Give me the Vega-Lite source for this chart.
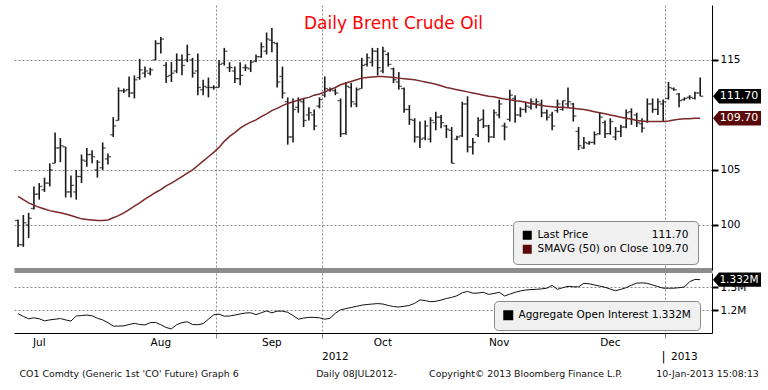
{
"$schema": "https://vega.github.io/schema/vega-lite/v6.json",
"background": "white",
"padding": {"left": 14, "top": 5, "right": 0, "bottom": 0},
"bounds": "flush",
"spacing": 3,
"config": {"view": {"stroke": null}, "font": "DejaVu Sans", "axis": {"labelFont": "DejaVu Sans"}, "legend": {"labelFont": "DejaVu Sans"}},
"datasets": {
"bars": [
{"d":"2012-07-11","o":100.4,"h":100.5,"l":98.0,"c":98.2,"s":102.6,"oi":1.184},
{"d":"2012-07-12","o":98.2,"h":100.9,"l":98.0,"c":100.2,"s":102.3,"oi":1.172},
{"d":"2012-07-13","o":100.0,"h":101.1,"l":98.8,"c":100.6,"s":102.0,"oi":1.162},
{"d":"2012-07-16","o":101.5,"h":103.5,"l":101.4,"c":102.8,"s":101.8,"oi":1.166},
{"d":"2012-07-17","o":102.8,"h":103.8,"l":102.3,"c":103.5,"s":101.6,"oi":1.162},
{"d":"2012-07-18","o":103.2,"h":104.3,"l":103.0,"c":103.8,"s":101.45,"oi":1.153},
{"d":"2012-07-19","o":103.8,"h":105.6,"l":103.5,"c":105.0,"s":101.3,"oi":1.157},
{"d":"2012-07-20","o":105.6,"h":108.4,"l":105.6,"c":107.0,"s":101.2,"oi":1.160},
{"d":"2012-07-23","o":107.0,"h":107.9,"l":105.7,"c":107.2,"s":101.1,"oi":1.163},
{"d":"2012-07-24","o":107.1,"h":107.1,"l":102.5,"c":103.0,"s":101.0,"oi":1.157},
{"d":"2012-07-25","o":103.0,"h":104.5,"l":102.5,"c":103.6,"s":100.85,"oi":1.152},
{"d":"2012-07-26","o":103.0,"h":105.0,"l":102.3,"c":104.4,"s":100.7,"oi":1.174},
{"d":"2012-07-27","o":104.4,"h":106.4,"l":103.8,"c":105.9,"s":100.55,"oi":1.176},
{"d":"2012-07-30","o":105.8,"h":107.0,"l":105.3,"c":106.4,"s":100.5,"oi":1.178},
{"d":"2012-07-31","o":106.4,"h":106.8,"l":105.6,"c":106.2,"s":100.45,"oi":1.175},
{"d":"2012-08-01","o":105.0,"h":105.9,"l":104.3,"c":105.7,"s":100.4,"oi":1.164},
{"d":"2012-08-02","o":105.2,"h":107.5,"l":105.0,"c":107.0,"s":100.4,"oi":1.157},
{"d":"2012-08-03","o":106.0,"h":106.5,"l":105.5,"c":106.2,"s":100.45,"oi":1.145},
{"d":"2012-08-06","o":108.2,"h":109.8,"l":108.0,"c":109.0,"s":100.65,"oi":1.130},
{"d":"2012-08-07","o":109.5,"h":112.5,"l":109.5,"c":112.2,"s":100.85,"oi":1.130},
{"d":"2012-08-08","o":112.2,"h":112.4,"l":112.0,"c":112.2,"s":101.1,"oi":1.131},
{"d":"2012-08-09","o":112.3,"h":113.5,"l":111.6,"c":112.0,"s":101.4,"oi":1.137},
{"d":"2012-08-10","o":112.0,"h":113.6,"l":111.5,"c":113.2,"s":101.7,"oi":1.142},
{"d":"2012-08-13","o":113.4,"h":115.1,"l":113.2,"c":114.1,"s":102.0,"oi":1.137},
{"d":"2012-08-14","o":113.8,"h":114.4,"l":113.4,"c":114.0,"s":102.35,"oi":1.135},
{"d":"2012-08-15","o":113.8,"h":114.3,"l":113.6,"c":114.1,"s":102.65,"oi":1.145},
{"d":"2012-08-16","o":115.0,"h":116.8,"l":115.0,"c":116.5,"s":102.95,"oi":1.146},
{"d":"2012-08-17","o":116.5,"h":117.1,"l":115.6,"c":116.9,"s":103.2,"oi":1.136},
{"d":"2012-08-20","o":114.5,"h":114.8,"l":112.9,"c":113.5,"s":103.55,"oi":1.124},
{"d":"2012-08-21","o":113.6,"h":114.8,"l":113.0,"c":113.8,"s":103.8,"oi":1.118},
{"d":"2012-08-22","o":114.0,"h":115.6,"l":113.8,"c":115.0,"s":104.1,"oi":1.136},
{"d":"2012-08-23","o":115.0,"h":115.5,"l":113.6,"c":114.5,"s":104.4,"oi":1.145},
{"d":"2012-08-24","o":115.0,"h":116.4,"l":114.8,"c":115.5,"s":104.7,"oi":1.149},
{"d":"2012-08-27","o":115.0,"h":115.2,"l":113.4,"c":113.8,"s":105.0,"oi":1.137},
{"d":"2012-08-28","o":114.0,"h":115.6,"l":111.8,"c":112.5,"s":105.4,"oi":1.136},
{"d":"2012-08-29","o":112.3,"h":113.2,"l":111.8,"c":112.6,"s":105.8,"oi":1.141},
{"d":"2012-08-30","o":112.5,"h":113.4,"l":111.6,"c":112.5,"s":106.2,"oi":1.160},
{"d":"2012-08-31","o":112.5,"h":112.7,"l":112.3,"c":112.5,"s":106.6,"oi":1.179},
{"d":"2012-09-03","o":112.5,"h":115.0,"l":112.5,"c":114.6,"s":107.05,"oi":1.182},
{"d":"2012-09-04","o":114.7,"h":116.1,"l":114.5,"c":115.8,"s":107.6,"oi":1.173},
{"d":"2012-09-05","o":114.3,"h":114.8,"l":113.9,"c":114.3,"s":108.05,"oi":1.174},
{"d":"2012-09-06","o":114.0,"h":114.4,"l":112.9,"c":113.3,"s":108.4,"oi":1.178},
{"d":"2012-09-07","o":113.3,"h":114.8,"l":112.7,"c":113.6,"s":108.8,"oi":1.183},
{"d":"2012-09-10","o":114.3,"h":114.6,"l":114.0,"c":114.3,"s":109.1,"oi":1.187},
{"d":"2012-09-11","o":114.2,"h":115.0,"l":113.9,"c":114.8,"s":109.35,"oi":1.188},
{"d":"2012-09-12","o":114.9,"h":115.5,"l":114.8,"c":115.3,"s":109.55,"oi":1.180},
{"d":"2012-09-13","o":115.3,"h":116.6,"l":115.2,"c":116.2,"s":109.85,"oi":1.188},
{"d":"2012-09-14","o":115.8,"h":117.5,"l":115.5,"c":116.9,"s":110.1,"oi":1.196},
{"d":"2012-09-17","o":116.8,"h":117.9,"l":115.7,"c":116.6,"s":110.4,"oi":1.188},
{"d":"2012-09-18","o":116.5,"h":116.6,"l":112.5,"c":113.0,"s":110.6,"oi":1.195},
{"d":"2012-09-19","o":113.5,"h":114.4,"l":111.5,"c":112.0,"s":110.85,"oi":1.195},
{"d":"2012-09-20","o":111.2,"h":111.6,"l":107.3,"c":108.0,"s":111.05,"oi":1.190},
{"d":"2012-09-21","o":108.0,"h":111.5,"l":107.5,"c":110.5,"s":111.2,"oi":1.176},
{"d":"2012-09-24","o":110.7,"h":111.6,"l":110.2,"c":111.3,"s":111.35,"oi":1.160},
{"d":"2012-09-25","o":111.2,"h":111.5,"l":108.9,"c":109.5,"s":111.5,"oi":1.165},
{"d":"2012-09-26","o":110.0,"h":110.7,"l":109.5,"c":110.2,"s":111.6,"oi":1.168},
{"d":"2012-09-27","o":110.0,"h":110.5,"l":108.6,"c":109.0,"s":111.8,"oi":1.168},
{"d":"2012-09-28","o":110.8,"h":111.6,"l":110.6,"c":111.4,"s":111.9,"oi":1.166},
{"d":"2012-10-01","o":111.8,"h":113.5,"l":111.6,"c":112.4,"s":112.1,"oi":1.160},
{"d":"2012-10-02","o":112.3,"h":112.5,"l":112.1,"c":112.3,"s":112.3,"oi":1.164},
{"d":"2012-10-03","o":112.2,"h":112.4,"l":111.8,"c":112.0,"s":112.5,"oi":1.186},
{"d":"2012-10-04","o":111.3,"h":111.5,"l":108.0,"c":108.3,"s":112.75,"oi":1.201},
{"d":"2012-10-05","o":108.3,"h":113.0,"l":108.2,"c":112.6,"s":112.9,"oi":1.206},
{"d":"2012-10-08","o":112.5,"h":112.9,"l":110.7,"c":111.2,"s":113.05,"oi":1.211},
{"d":"2012-10-09","o":111.0,"h":112.5,"l":110.7,"c":112.3,"s":113.2,"oi":1.216},
{"d":"2012-10-10","o":112.4,"h":115.2,"l":112.4,"c":114.5,"s":113.35,"oi":1.221},
{"d":"2012-10-11","o":114.6,"h":115.6,"l":114.4,"c":115.2,"s":113.4,"oi":1.224},
{"d":"2012-10-12","o":114.8,"h":116.1,"l":114.4,"c":115.8,"s":113.45,"oi":1.226},
{"d":"2012-10-15","o":115.8,"h":116.1,"l":113.6,"c":114.3,"s":113.5,"oi":1.228},
{"d":"2012-10-16","o":114.0,"h":116.2,"l":113.8,"c":115.8,"s":113.5,"oi":1.226},
{"d":"2012-10-17","o":115.5,"h":115.7,"l":114.4,"c":114.6,"s":113.45,"oi":1.220},
{"d":"2012-10-18","o":114.2,"h":114.3,"l":112.9,"c":113.2,"s":113.4,"oi":1.215},
{"d":"2012-10-19","o":113.0,"h":113.9,"l":112.3,"c":112.6,"s":113.35,"oi":1.213},
{"d":"2012-10-22","o":112.4,"h":112.5,"l":110.2,"c":110.5,"s":113.3,"oi":1.216},
{"d":"2012-10-23","o":110.5,"h":110.9,"l":109.1,"c":109.6,"s":113.25,"oi":1.220},
{"d":"2012-10-24","o":109.5,"h":109.7,"l":107.5,"c":108.0,"s":113.2,"oi":1.229},
{"d":"2012-10-25","o":108.0,"h":109.4,"l":107.0,"c":107.8,"s":113.1,"oi":1.244},
{"d":"2012-10-26","o":107.9,"h":109.5,"l":107.7,"c":109.0,"s":113.0,"oi":1.241},
{"d":"2012-10-29","o":107.8,"h":109.8,"l":107.5,"c":109.5,"s":112.9,"oi":1.236},
{"d":"2012-10-30","o":109.3,"h":110.3,"l":108.6,"c":109.8,"s":112.8,"oi":1.238},
{"d":"2012-10-31","o":109.8,"h":110.0,"l":108.8,"c":109.3,"s":112.65,"oi":1.243},
{"d":"2012-11-01","o":109.0,"h":109.1,"l":107.9,"c":108.7,"s":112.5,"oi":1.250},
{"d":"2012-11-02","o":108.6,"h":108.9,"l":105.6,"c":105.6,"s":112.4,"oi":1.255},
{"d":"2012-11-05","o":107.8,"h":108.1,"l":107.7,"c":108.0,"s":112.3,"oi":1.262},
{"d":"2012-11-06","o":108.1,"h":111.2,"l":108.0,"c":111.0,"s":112.2,"oi":1.275},
{"d":"2012-11-07","o":111.0,"h":111.7,"l":106.6,"c":107.1,"s":112.1,"oi":1.281},
{"d":"2012-11-08","o":107.1,"h":107.9,"l":106.4,"c":107.5,"s":112.0,"oi":1.273},
{"d":"2012-11-09","o":108.2,"h":109.8,"l":108.0,"c":109.5,"s":111.9,"oi":1.274},
{"d":"2012-11-12","o":109.6,"h":110.5,"l":108.8,"c":109.0,"s":111.8,"oi":1.277},
{"d":"2012-11-13","o":109.0,"h":109.1,"l":107.5,"c":108.0,"s":111.7,"oi":1.268},
{"d":"2012-11-14","o":108.0,"h":110.5,"l":107.9,"c":110.2,"s":111.65,"oi":1.272},
{"d":"2012-11-15","o":110.0,"h":111.4,"l":109.7,"c":111.0,"s":111.55,"oi":1.277},
{"d":"2012-11-16","o":109.0,"h":109.3,"l":107.7,"c":108.9,"s":111.45,"oi":1.261},
{"d":"2012-11-19","o":109.6,"h":112.3,"l":109.4,"c":111.8,"s":111.4,"oi":1.269},
{"d":"2012-11-20","o":111.5,"h":111.8,"l":109.3,"c":110.0,"s":111.3,"oi":1.277},
{"d":"2012-11-21","o":110.0,"h":110.7,"l":109.8,"c":110.5,"s":111.25,"oi":1.283},
{"d":"2012-11-22","o":110.5,"h":111.2,"l":110.2,"c":110.8,"s":111.15,"oi":1.287},
{"d":"2012-11-23","o":110.7,"h":111.5,"l":110.5,"c":111.2,"s":111.05,"oi":1.289},
{"d":"2012-11-26","o":111.0,"h":111.5,"l":110.6,"c":111.2,"s":110.95,"oi":1.290},
{"d":"2012-11-27","o":111.0,"h":111.4,"l":109.8,"c":110.2,"s":110.85,"oi":1.292},
{"d":"2012-11-28","o":110.2,"h":110.5,"l":109.5,"c":109.8,"s":110.8,"oi":1.295},
{"d":"2012-11-29","o":110.0,"h":110.3,"l":108.6,"c":109.0,"s":110.75,"oi":1.307},
{"d":"2012-11-30","o":110.4,"h":111.4,"l":110.2,"c":111.0,"s":110.7,"oi":1.290},
{"d":"2012-12-03","o":110.5,"h":111.3,"l":110.4,"c":111.3,"s":110.7,"oi":1.297},
{"d":"2012-12-04","o":111.0,"h":112.5,"l":110.7,"c":111.2,"s":110.65,"oi":1.303},
{"d":"2012-12-05","o":111.0,"h":111.1,"l":109.4,"c":109.9,"s":110.6,"oi":1.301},
{"d":"2012-12-06","o":108.5,"h":108.9,"l":106.8,"c":107.2,"s":110.55,"oi":1.301},
{"d":"2012-12-07","o":107.0,"h":108.0,"l":106.9,"c":107.5,"s":110.5,"oi":1.316},
{"d":"2012-12-10","o":107.4,"h":107.6,"l":107.3,"c":107.5,"s":110.4,"oi":1.314},
{"d":"2012-12-11","o":107.5,"h":108.5,"l":107.3,"c":108.2,"s":110.3,"oi":1.309},
{"d":"2012-12-12","o":108.3,"h":110.2,"l":108.2,"c":109.8,"s":110.2,"oi":1.304},
{"d":"2012-12-13","o":109.3,"h":109.5,"l":107.9,"c":108.3,"s":110.1,"oi":1.299},
{"d":"2012-12-14","o":108.3,"h":109.7,"l":108.2,"c":109.4,"s":110.0,"oi":1.291},
{"d":"2012-12-17","o":108.0,"h":108.9,"l":107.7,"c":108.5,"s":109.9,"oi":1.284},
{"d":"2012-12-18","o":108.5,"h":109.1,"l":108.0,"c":108.9,"s":109.8,"oi":1.290},
{"d":"2012-12-19","o":108.9,"h":110.5,"l":108.8,"c":110.2,"s":109.7,"oi":1.297},
{"d":"2012-12-20","o":110.3,"h":110.6,"l":109.1,"c":109.6,"s":109.6,"oi":1.308},
{"d":"2012-12-21","o":110.0,"h":110.2,"l":108.9,"c":109.3,"s":109.5,"oi":1.317},
{"d":"2012-12-24","o":109.2,"h":109.7,"l":108.4,"c":108.8,"s":109.45,"oi":1.318},
{"d":"2012-12-26","o":109.4,"h":111.5,"l":109.3,"c":111.0,"s":109.4,"oi":1.316},
{"d":"2012-12-27","o":111.0,"h":111.5,"l":110.2,"c":110.5,"s":109.4,"oi":1.309},
{"d":"2012-12-28","o":110.5,"h":111.5,"l":110.0,"c":111.2,"s":109.4,"oi":1.302},
{"d":"2012-12-31","o":111.0,"h":111.4,"l":109.4,"c":111.2,"s":109.4,"oi":1.295},
{"d":"2013-01-02","o":111.5,"h":113.0,"l":111.4,"c":112.5,"s":109.45,"oi":1.295},
{"d":"2013-01-03","o":112.4,"h":112.5,"l":112.2,"c":112.3,"s":109.55,"oi":1.295},
{"d":"2013-01-04","o":111.9,"h":112.0,"l":110.7,"c":111.3,"s":109.6,"oi":1.297},
{"d":"2013-01-07","o":111.4,"h":111.6,"l":111.3,"c":111.5,"s":109.65,"oi":1.300},
{"d":"2013-01-08","o":111.6,"h":111.8,"l":111.4,"c":111.6,"s":109.65,"oi":1.323},
{"d":"2013-01-09","o":111.5,"h":112.1,"l":111.4,"c":112.0,"s":109.7,"oi":1.333},
{"d":"2013-01-10","o":112.0,"h":113.4,"l":111.7,"c":111.7,"s":109.7,"oi":1.332}
],
"ptags": [{"series":"Last Price","v":111.70,"label":"111.70"},{"series":"SMAVG (50) on Close","v":109.70,"label":"109.70"}],
"oitag": [{"series":"Aggregate Open Interest","v":1.332,"label":"1.332M"}],
"titletext": [{"d":"2012-10-18","t":"Daily Brent Crude Oil"}],
"years": [{"d":"2012-10-03","t":"2012","row":"year"},{"d":"2013-01-07","t":"2013","row":"year"}],
"divider": [{"d":"2013-01-02","t":"|","row":"year"}],
"footer": [{"d":"2012-08-09","t":"CO1 Comdty (Generic 1st 'CO' Future) Graph 6","row":"footer"},{"d":"2012-10-09","t":"Daily 08JUL2012-","row":"footer"},{"d":"2012-11-22","t":"Copyright© 2013 Bloomberg Finance L.P.","row":"footer"}],
"stamp": [{"d":"2013-01-10","t":"10-Jan-2013 15:08:13","row":"footer"}]
},
"resolve": {"scale": {"x": "shared", "color": "independent"}, "legend": {"color": "independent"}},
"vconcat": [
{
"width": 698, "height": 265,
"layer": [
{"data": {"name": "bars"}, "mark": {"type": "rule", "strokeWidth": 1.6},
 "encoding": {
  "x": {"field": "d", "type": "ordinal", "title": null, "scale": {"type": "band", "paddingInner": 0, "paddingOuter": 1.7, "align": 0.134},
        "axis": {"orient": "bottom", "title": null, "values": ["2012-09-03","2012-10-01","2013-01-02"], "labels": false, "ticks": false, "grid": true, "gridDash": [2,2], "gridColor": "#8a8a8a", "bandPosition": 0, "domainColor": "#8c8c8c", "domainWidth": 5}},
  "y": {"field": "l", "type": "quantitative", "title": null, "scale": {"domain": [95.9, 120], "nice": false, "zero": false},
        "axis": {"orient": "right", "title": null, "values": [100, 105, 115], "format": "d",
                 "grid": true, "gridDash": [2,2], "gridColor": "#8a8a8a",
                 "tickSize": 6, "tickColor": "#000", "tickWidth": 2, "domainColor": "#000", "labelFontSize": 10.5, "labelColor": "#000", "labelPadding": 2, "labelOverlap": false}},
  "y2": {"field": "h"},
  "color": {"datum": "Last Price", "scale": {"domain": ["Last Price", "SMAVG (50) on Close"], "range": ["#1a1a1a", "#7a2828"]},
            "legend": {"orient": "none", "legendX": 499, "legendY": 216, "title": null, "symbolType": "square", "symbolSize": 81, "symbolStrokeWidth": 0,
                       "labelFontSize": 10.5, "labelColor": "#000", "padding": 9, "rowPadding": 3, "labelOffset": 5, "labelLimit": 400,
                       "fillColor": "#f0f0f0", "strokeColor": "#8a8a8a", "cornerRadius": 4,
                       "labelExpr": "datum.label == 'Last Price' ? 'Last Price\u00a0\u00a0\u00a0\u00a0\u00a0\u00a0\u00a0\u00a0\u00a0\u00a0\u00a0\u00a0\u00a0\u00a0\u00a0\u00a0\u00a0\u00a0\u00a0111.70' : 'SMAVG (50) on Close 109.70'",
                       "encode": {"symbols": {"update": {"fill": {"signal": "datum.value == 'Last Price' ? '#000000' : '#5a0a0a'"}, "stroke": {"value": "transparent"}, "opacity": {"value": 1}}}}}}
 }},
{"data": {"name": "bars"}, "mark": {"type": "tick", "orient": "horizontal", "size": 3, "thickness": 1.3, "xOffset": -1.6, "color": "#1a1a1a"},
 "encoding": {"x": {"field": "d", "type": "ordinal", "title": null}, "y": {"field": "o", "type": "quantitative", "title": null}}},
{"data": {"name": "bars"}, "mark": {"type": "tick", "orient": "horizontal", "size": 3, "thickness": 1.3, "xOffset": 1.6, "color": "#1a1a1a"},
 "encoding": {"x": {"field": "d", "type": "ordinal", "title": null}, "y": {"field": "c", "type": "quantitative", "title": null}}},
{"data": {"name": "bars"}, "mark": {"type": "line", "strokeWidth": 1.5},
 "encoding": {"x": {"field": "d", "type": "ordinal", "title": null}, "y": {"field": "s", "type": "quantitative", "title": null}, "color": {"datum": "SMAVG (50) on Close"}}},
{"data": {"name": "titletext"}, "mark": {"type": "text", "fontSize": 17, "color": "#ff0000", "align": "center", "baseline": "middle"},
 "encoding": {"x": {"field": "d", "type": "ordinal", "title": null}, "y": {"datum": 118.3, "type": "quantitative", "title": null}, "text": {"field": "t"}}},
{"data": {"name": "ptags"}, "mark": {"type": "point", "shape": "M-1,0L-0.75,-0.3L1,-0.3L1,0.3L-0.75,0.3Z", "size": 2304, "filled": true, "opacity": 1, "strokeWidth": 0, "xOffset": 25},
 "encoding": {"x": {"value": "width"}, "y": {"field": "v", "type": "quantitative", "title": null},
  "fill": {"condition": {"test": "datum.series == 'Last Price'", "value": "#000000"}, "value": "#5a0a0a"}}},
{"data": {"name": "ptags"}, "mark": {"type": "text", "color": "#ffffff", "fontSize": 11, "align": "center", "baseline": "middle", "xOffset": 27},
 "encoding": {"x": {"value": "width"}, "y": {"field": "v", "type": "quantitative", "title": null}, "text": {"field": "label"}}}
]
},
{
"width": 698, "height": 60,
"layer": [
{"data": {"name": "bars"}, "mark": {"type": "line", "strokeWidth": 1},
 "encoding": {
  "x": {"field": "d", "type": "ordinal", "title": null,
        "axis": {"orient": "bottom", "title": null, "bandPosition": 0,
                 "values": ["2012-07-17","2012-08-17","2012-09-03","2012-09-17","2012-10-01","2012-10-16","2012-11-15","2012-12-14","2013-01-02"],
                 "labelExpr": "indexof(['2012-07-17','2012-08-17','2012-09-17','2012-10-16','2012-11-15','2012-12-14'], datum.value) >= 0 ? ['Jan','Feb','Mar','Apr','May','Jun','Jul','Aug','Sep','Oct','Nov','Dec'][toNumber(slice(datum.value,5,7))-1] : ''",
                 "grid": true, "gridDash": [2,2], "gridColor": "#8a8a8a",
                 "gridOpacity": {"condition": {"test": "indexof(['2012-09-03','2012-10-01','2013-01-02'], datum.value) >= 0", "value": 1}, "value": 0},
                 "tickSize": {"condition": {"test": "indexof(['2012-09-03','2012-10-01','2013-01-02'], datum.value) >= 0", "value": 5}, "value": 0},
                 "tickColor": "#8a8a8a", "domainColor": "#000", "domainWidth": 1, "labelFontSize": 10.5, "labelColor": "#000", "labelPadding": 4, "labelAngle": 0, "labelOverlap": false}},
  "y": {"field": "oi", "type": "quantitative", "title": null, "scale": {"domain": [1.1, 1.361], "nice": false, "zero": false},
        "axis": {"orient": "right", "title": null, "values": [1.2, 1.3], "labelExpr": "format(datum.value,'.1f') + 'M'",
                 "grid": true, "gridDash": [2,2], "gridColor": "#8a8a8a", "tickSize": 6, "tickWidth": 2, "tickColor": "#000", "domainColor": "#000",
                 "labelFontSize": 10.5, "labelColor": "#000", "labelPadding": 2, "labelOverlap": false}},
  "color": {"datum": "Aggregate Open Interest", "scale": {"domain": ["Aggregate Open Interest"], "range": ["#111111"]},
            "legend": {"orient": "none", "legendX": 480, "legendY": 28, "title": null, "symbolType": "square", "symbolSize": 100, "symbolStrokeWidth": 0,
                       "labelFontSize": 10.5, "labelColor": "#000", "padding": 9, "labelOffset": 5, "labelLimit": 400,
                       "fillColor": "#f0f0f0", "strokeColor": "#8a8a8a", "cornerRadius": 4,
                       "labelExpr": "'Aggregate Open Interest 1.332M'",
                       "encode": {"symbols": {"update": {"fill": {"value": "#000000"}, "stroke": {"value": "transparent"}, "opacity": {"value": 1}}}}}}
 }},
{"data": {"name": "oitag"}, "mark": {"type": "point", "shape": "M-1,0L-0.75,-0.3L1,-0.3L1,0.3L-0.75,0.3Z", "size": 2304, "filled": true, "opacity": 1, "strokeWidth": 0, "xOffset": 25, "fill": "#000000"},
 "encoding": {"x": {"value": "width"}, "y": {"field": "v", "type": "quantitative", "title": null}}},
{"data": {"name": "oitag"}, "mark": {"type": "text", "color": "#ffffff", "fontSize": 10.5, "align": "center", "baseline": "middle", "xOffset": 27},
 "encoding": {"x": {"value": "width"}, "y": {"field": "v", "type": "quantitative", "title": null}, "text": {"field": "label"}}}
]
},
{
"width": 698, "height": 40,
"layer": [
{"data": {"name": "years"}, "mark": {"type": "text", "fontSize": 10.5, "color": "#000", "baseline": "middle"},
 "encoding": {"x": {"field": "d", "type": "ordinal", "axis": null}, "y": {"field": "row", "type": "ordinal", "scale": {"type": "point", "domain": ["year", "footer"], "range": [21, 38], "padding": 0}, "axis": null}, "text": {"field": "t"}}},
{"data": {"name": "divider"}, "mark": {"type": "text", "fontSize": 12, "color": "#000", "baseline": "middle", "dx": -5},
 "encoding": {"x": {"field": "d", "type": "ordinal", "axis": null}, "y": {"field": "row", "type": "ordinal", "axis": null}, "text": {"field": "t"}}},
{"data": {"name": "footer"}, "mark": {"type": "text", "fontSize": 9.4, "color": "#111", "baseline": "middle"},
 "encoding": {"x": {"field": "d", "type": "ordinal", "axis": null}, "y": {"field": "row", "type": "ordinal", "axis": null}, "text": {"field": "t"}}},
{"data": {"name": "stamp"}, "mark": {"type": "text", "fontSize": 9.4, "color": "#111", "baseline": "middle", "align": "left", "dx": -44},
 "encoding": {"x": {"field": "d", "type": "ordinal", "axis": null}, "y": {"field": "row", "type": "ordinal", "axis": null}, "text": {"field": "t"}}}
]
}
]
}
